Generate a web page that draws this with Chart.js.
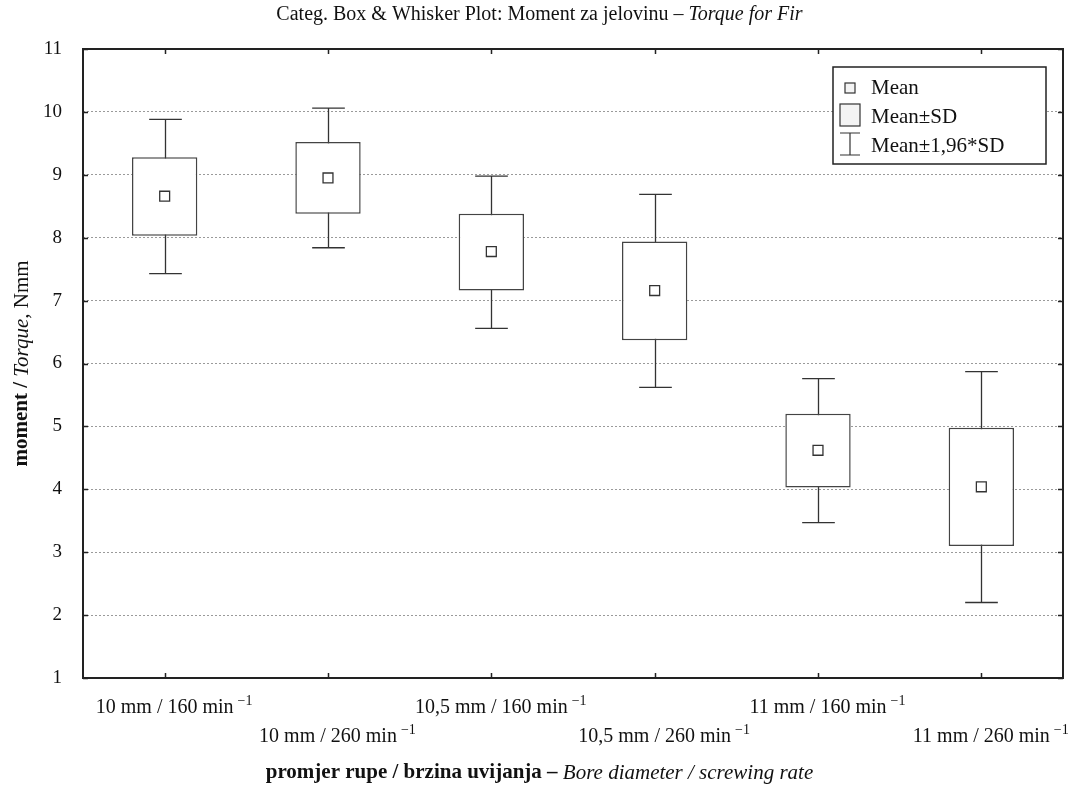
<!DOCTYPE html>
<html>
<head>
<meta charset="utf-8">
<title>Moment za jelovinu</title>
<script src="https://cdn.jsdelivr.net/npm/chart.js@4.4.1/dist/chart.umd.min.js"></script>
<style>
  html, body { margin: 0; padding: 0; background: #fff; }
  #wrap { position: relative; width: 1079px; height: 789px; }
</style>
</head>
<body>
<div id="wrap"><canvas id="torque-chart" width="1079" height="789"></canvas></div>
<script>
// torque for fir, per bore diameter / screwing rate
const categories = ["10 mm / 160 min", "10 mm / 260 min", "10,5 mm / 160 min",
                    "10,5 mm / 260 min", "11 mm / 160 min", "11 mm / 260 min"];
const unitSup = "\u22121";

const meanValues = [8.66, 8.95, 7.78, 7.16, 4.62, 4.04];
const sdHigh = [9.28, 9.52, 8.38, 7.94, 5.20, 4.98];
const sdLow = [8.03, 8.38, 7.16, 6.37, 4.03, 3.10];
const ciHigh = [9.88, 10.06, 8.98, 8.69, 5.76, 5.87];
const ciLow = [7.43, 7.84, 6.56, 5.62, 3.47, 2.20];

const yMin = 1;
const yMax = 11;
const yStep = 1;

const titleParts = [
  { text: "Categ. Box & Whisker Plot: Moment za jelovinu \u2013 ", style: "" },
  { text: "Torque for Fir", style: "italic " },
];
const xTitleParts = [
  { text: "promjer rupe / brzina uvijanja \u2013 ", style: "bold " },
  { text: "Bore diameter / screwing rate", style: "italic " },
];
const yTitleParts = [
  { text: "moment / ", style: "bold " },
  { text: "Torque,", style: "italic " },
  { text: " Nmm", style: "" },
];
const legendItems = ["Mean", "Mean\u00b1SD", "Mean\u00b11,96*SD"];

const SERIF = '"Liberation Serif", "Times New Roman", serif';
const INK = "#222";

function richText(ctx, parts, size, cx, cy) {
  let total = 0;
  const widths = parts.map(p => {
    ctx.font = p.style + size + "px " + SERIF;
    const w = ctx.measureText(p.text).width;
    total += w;
    return w;
  });
  let x = cx - total / 2;
  ctx.textAlign = "left";
  ctx.textBaseline = "middle";
  parts.forEach((p, i) => {
    ctx.font = p.style + size + "px " + SERIF;
    ctx.fillText(p.text, x, cy);
    x += widths[i];
  });
}

// whisker lines for mean +/- 1.96*SD, drawn under the boxes
const whiskers = {
  id: "whiskers",
  beforeDatasetsDraw(chart) {
    const { ctx, scales: { x, y } } = chart;
    const bars = chart.getDatasetMeta(0).data;
    ctx.save();
    ctx.strokeStyle = "#333";
    ctx.lineWidth = 1.3;
    categories.forEach((c, i) => {
      const px = Math.round(x.getPixelForValue(i)) + 0.5;
      const half = bars[i].width / 4;
      const top = y.getPixelForValue(ciHigh[i]);
      const bot = y.getPixelForValue(ciLow[i]);
      ctx.beginPath();
      ctx.moveTo(px, top);
      ctx.lineTo(px, bot);
      ctx.moveTo(px - half, top);
      ctx.lineTo(px + half, top);
      ctx.moveTo(px - half, bot);
      ctx.lineTo(px + half, bot);
      ctx.stroke();
    });
    ctx.restore();
  }
};

// frame, inward ticks, titles, staggered category labels and legend box
const decorations = {
  id: "decorations",
  afterDraw(chart) {
    const { ctx, chartArea: a, scales: { x, y } } = chart;
    ctx.save();
    ctx.fillStyle = "#111";

    // frame
    ctx.strokeStyle = INK;
    ctx.lineWidth = 2;
    ctx.strokeRect(a.left, a.top, a.right - a.left, a.bottom - a.top);

    // inward ticks
    ctx.lineWidth = 1.5;
    ctx.beginPath();
    for (let v = yMin; v <= yMax; v += yStep) {
      const py = Math.round(y.getPixelForValue(v)) + 0.5;
      ctx.moveTo(a.left, py); ctx.lineTo(a.left + 5, py);
      ctx.moveTo(a.right, py); ctx.lineTo(a.right - 5, py);
    }
    categories.forEach((c, i) => {
      const px = Math.round(x.getPixelForValue(i)) + 0.5;
      ctx.moveTo(px, a.top); ctx.lineTo(px, a.top + 5);
      ctx.moveTo(px, a.bottom); ctx.lineTo(px, a.bottom - 5);
    });
    ctx.stroke();

    // category labels in two rows, unit exponent raised
    categories.forEach((c, i) => {
      const px = x.getPixelForValue(i);
      const py = a.bottom + (i % 2 ? 59 : 30);
      ctx.font = "20px " + SERIF;
      ctx.textAlign = "center";
      ctx.textBaseline = "middle";
      ctx.fillText(c, px, py);
      const w = ctx.measureText(c).width;
      ctx.font = "14px " + SERIF;
      ctx.textAlign = "left";
      ctx.fillText(unitSup, px + w / 2 + 4, py - 7);
    });

    // titles
    richText(ctx, titleParts, 20, chart.width / 2, 15);
    richText(ctx, xTitleParts, 21, chart.width / 2, 773);
    ctx.save();
    ctx.translate(22, (a.top + a.bottom) / 2);
    ctx.rotate(-Math.PI / 2);
    richText(ctx, yTitleParts, 21, 0, 0);
    ctx.restore();

    // legend
    const lx = a.right - 230, ly = a.top + 18, lw = 213, lh = 97;
    ctx.fillStyle = "#fff";
    ctx.fillRect(lx, ly, lw, lh);
    ctx.strokeStyle = INK;
    ctx.lineWidth = 1.5;
    ctx.strokeRect(lx, ly, lw, lh);
    const mx = lx + 17;
    ctx.lineWidth = 1.2;
    ctx.strokeStyle = "#333";
    ctx.fillStyle = "#f4f4f4";
    ctx.fillRect(mx - 5, ly + 16, 10, 10);
    ctx.strokeRect(mx - 5, ly + 16, 10, 10);
    ctx.fillRect(mx - 10, ly + 37, 20, 22);
    ctx.strokeRect(mx - 10, ly + 37, 20, 22);
    ctx.beginPath();
    ctx.moveTo(mx - 10, ly + 66); ctx.lineTo(mx + 10, ly + 66);
    ctx.moveTo(mx, ly + 66); ctx.lineTo(mx, ly + 88);
    ctx.moveTo(mx - 10, ly + 88); ctx.lineTo(mx + 10, ly + 88);
    ctx.stroke();
    ctx.fillStyle = "#111";
    ctx.font = "21px " + SERIF;
    ctx.textAlign = "left";
    ctx.textBaseline = "middle";
    legendItems.forEach((t, i) => ctx.fillText(t, lx + 38, ly + 21 + i * 29));
    ctx.restore();
  }
};

new Chart(document.getElementById("torque-chart"), {
  type: "bar",
  data: {
    labels: categories,
    datasets: [
      {
        label: "Mean\u00b1SD",
        data: sdLow.map((lo, i) => [lo, sdHigh[i]]),
        backgroundColor: "#fff",
        borderColor: "#444",
        borderWidth: 1.5,
        borderSkipped: false,
        barPercentage: 0.4,
        categoryPercentage: 1,
        order: 2,
      },
      {
        type: "line",
        label: "Mean",
        data: meanValues,
        showLine: false,
        pointStyle: "rect",
        pointRadius: 7,
        pointBackgroundColor: "#fff",
        pointBorderColor: "#333",
        pointBorderWidth: 1.3,
        order: 1,
      },
    ],
  },
  options: {
    responsive: false,
    animation: false,
    devicePixelRatio: 1,
    layout: { padding: { top: 49, right: 16, left: 0, bottom: 0 } },
    plugins: {
      legend: { display: false },
      title: { display: false },
      tooltip: { enabled: false },
    },
    scales: {
      x: {
        type: "category",
        offset: true,
        grid: { display: false },
        border: { display: false },
        ticks: { display: false },
        afterFit(scale) { scale.height = 111; },
      },
      y: {
        min: yMin,
        max: yMax,
        ticks: {
          stepSize: yStep,
          color: "#111",
          padding: 21,
          font: { family: SERIF, size: 19 },
        },
        grid: {
          color: (c) => (c.tick.value === yMin || c.tick.value === yMax ? "rgba(0,0,0,0)" : "#9a9a9a"),
          lineWidth: 1,
          drawTicks: false,
        },
        border: { display: false, dash: [2, 2] },
        afterFit(scale) { scale.width = 83; },
      },
    },
  },
  plugins: [whiskers, decorations],
});
</script>
</body>
</html>
